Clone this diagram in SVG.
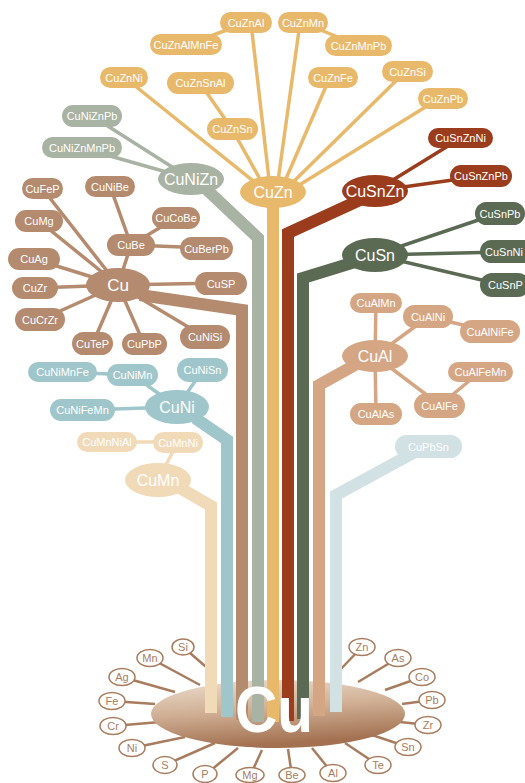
<svg xmlns="http://www.w3.org/2000/svg" width="525" height="783" viewBox="0 0 525 783">
<defs>
<linearGradient id="baseGrad" x1="0" y1="0" x2="0.25" y2="1">
<stop offset="0" stop-color="#eddfd0"/>
<stop offset="0.5" stop-color="#d0b095"/>
<stop offset="1" stop-color="#a37151"/>
</linearGradient>
<style>
text{font-family:"Liberation Sans",Arial,sans-serif;text-anchor:middle;fill:#fff}
.s{font-size:11px}
.m{font-size:16px}
.el{font-size:11px;fill:#a87c5e}
.elb{fill:#fff;stroke:#a87c5e;stroke-width:1.5}
.elc{stroke:#a87c5e;stroke-width:2.5;fill:none}
.t{fill:none;stroke-width:12;stroke-linejoin:miter}
.l{fill:none;stroke-width:3.5;stroke-linecap:round}
.zn{fill:#e8b96b}.znc{stroke:#e8b96b}
.nz{fill:#a9b3a3}.nzc{stroke:#a9b3a3}
.cu{fill:#b58b6f}.cuc{stroke:#b58b6f}
.ni{fill:#9fc6ca}.nic{stroke:#9fc6ca}
.mn{fill:#f1dab8}.mnc{stroke:#f1dab8}
.sz{fill:#9b3d1d}.szc{stroke:#9b3d1d}
.sn{fill:#5b6a53}.snc{stroke:#5b6a53}
.al{fill:#d5a684}.alc{stroke:#d5a684}
.pb{fill:#d2e1e3}.pbc{stroke:#d2e1e3}
</style>
</defs>
<rect width="525" height="783" fill="#fff"/>

<g id="element-links">
<line class="elc" x1="183" y1="647" x2="212" y2="672"/>
<line class="elc" x1="150" y1="658" x2="200" y2="685"/>
<line class="elc" x1="122" y1="677" x2="175" y2="692"/>
<line class="elc" x1="112" y1="701" x2="155" y2="704"/>
<line class="elc" x1="113" y1="726" x2="160" y2="722"/>
<line class="elc" x1="132" y1="748" x2="185" y2="737"/>
<line class="elc" x1="165" y1="765" x2="215" y2="743"/>
<line class="elc" x1="205" y1="775" x2="238" y2="748"/>
<line class="elc" x1="250" y1="776" x2="262" y2="750"/>
<line class="elc" x1="292" y1="776" x2="288" y2="749"/>
<line class="elc" x1="333" y1="774" x2="312" y2="748"/>
<line class="elc" x1="378" y1="765" x2="345" y2="743"/>
<line class="elc" x1="408" y1="747" x2="372" y2="735"/>
<line class="elc" x1="428" y1="725" x2="400" y2="722"/>
<line class="elc" x1="432" y1="700" x2="402" y2="704"/>
<line class="elc" x1="422" y1="677" x2="385" y2="690"/>
<line class="elc" x1="398" y1="658" x2="358" y2="682"/>
<line class="elc" x1="362" y1="647" x2="338" y2="672"/>
</g>

<g id="base">
<ellipse cx="278" cy="714" rx="127" ry="34" fill="url(#baseGrad)"/>
</g>

<g id="connectors">
<polyline class="t mnc" points="180,488 211,506 211,713"/>
<polyline class="t nic" points="195,418 227,440 227,717"/>
<polyline class="t cuc" points="140,295 242,310 242,720"/>
<polyline class="t nzc" points="205,188 258,238 258,722"/>
<polyline class="t znc" points="273,200 273,722"/>
<polyline class="t szc" points="360,200 288,233 288,721"/>
<polyline class="t snc" points="355,262 303,278 303,719"/>
<polyline class="t alc" points="355,365 319,385 319,716"/>
<polyline class="t pbc" points="415,452 336,495 336,712"/>
<line class="l znc" x1="124" y1="77" x2="262" y2="188"/>
<line class="l znc" x1="232" y1="129" x2="265" y2="188"/>
<line class="l znc" x1="200" y1="83" x2="232" y2="129"/>
<line class="l znc" x1="251" y1="23" x2="270" y2="188"/>
<line class="l znc" x1="186" y1="45" x2="246" y2="23"/>
<line class="l znc" x1="300" y1="23" x2="277" y2="188"/>
<line class="l znc" x1="303" y1="23" x2="358" y2="45"/>
<line class="l znc" x1="330" y1="77" x2="282" y2="188"/>
<line class="l znc" x1="405" y1="72" x2="285" y2="190"/>
<line class="l znc" x1="440" y1="98" x2="288" y2="192"/>
<line class="l nzc" x1="92" y1="116" x2="191" y2="179"/>
<line class="l nzc" x1="82" y1="148" x2="191" y2="179"/>
<line class="l cuc" x1="118" y1="285" x2="42" y2="188"/>
<line class="l cuc" x1="118" y1="285" x2="39" y2="221"/>
<line class="l cuc" x1="118" y1="285" x2="34" y2="259"/>
<line class="l cuc" x1="118" y1="285" x2="35" y2="288"/>
<line class="l cuc" x1="118" y1="285" x2="40" y2="320"/>
<line class="l cuc" x1="118" y1="285" x2="93" y2="343"/>
<line class="l cuc" x1="118" y1="285" x2="144" y2="344"/>
<line class="l cuc" x1="118" y1="285" x2="205" y2="337"/>
<line class="l cuc" x1="118" y1="285" x2="221" y2="283"/>
<line class="l cuc" x1="118" y1="285" x2="131" y2="245"/>
<line class="l cuc" x1="131" y1="245" x2="110" y2="186"/>
<line class="l cuc" x1="131" y1="245" x2="176" y2="218"/>
<line class="l cuc" x1="131" y1="245" x2="207" y2="248"/>
<line class="l nic" x1="62" y1="372" x2="133" y2="375"/>
<line class="l nic" x1="133" y1="375" x2="177" y2="407"/>
<line class="l nic" x1="203" y1="370" x2="177" y2="407"/>
<line class="l nic" x1="82" y1="410" x2="177" y2="407"/>
<line class="l mnc" x1="107" y1="442" x2="178" y2="442"/>
<line class="l mnc" x1="178" y1="442" x2="158" y2="480"/>
<line class="l szc" x1="375" y1="191" x2="461" y2="138"/>
<line class="l szc" x1="375" y1="191" x2="481" y2="176"/>
<line class="l snc" x1="375" y1="255" x2="499" y2="213"/>
<line class="l snc" x1="375" y1="255" x2="503" y2="252"/>
<line class="l snc" x1="375" y1="255" x2="503" y2="285"/>
<line class="l alc" x1="375" y1="356" x2="376" y2="303"/>
<line class="l alc" x1="375" y1="356" x2="428" y2="317"/>
<line class="l alc" x1="428" y1="317" x2="490" y2="331"/>
<line class="l alc" x1="375" y1="356" x2="440" y2="405"/>
<line class="l alc" x1="440" y1="405" x2="480" y2="372"/>
<line class="l alc" x1="375" y1="356" x2="376" y2="414"/>
</g>

<g id="CuZn-group" class="zn">
<g id="CuZnAl"><rect x="220" y="12" width="52" height="21" rx="10.5"/><text class="s" x="246" y="26.5">CuZnAl</text></g>
<g id="CuZnMn"><rect x="278" y="12" width="50" height="21" rx="10.5"/><text class="s" x="303" y="26.5">CuZnMn</text></g>
<g id="CuZnAlMnFe"><rect x="150" y="34" width="72" height="21" rx="10.5"/><text class="s" x="186" y="48.5">CuZnAlMnFe</text></g>
<g id="CuZnMnPb"><rect x="325" y="35" width="67" height="21" rx="10.5"/><text class="s" x="358.5" y="49.5">CuZnMnPb</text></g>
<g id="CuZnNi"><rect x="100" y="67" width="48" height="21" rx="10.5"/><text class="s" x="124" y="81.5">CuZnNi</text></g>
<g id="CuZnSnAl"><rect x="167" y="72" width="67" height="22" rx="11"/><text class="s" x="200.5" y="87">CuZnSnAl</text></g>
<g id="CuZnFe"><rect x="308" y="67" width="50" height="21" rx="10.5"/><text class="s" x="333" y="81.5">CuZnFe</text></g>
<g id="CuZnSi"><rect x="382" y="61" width="51" height="21" rx="10.5"/><text class="s" x="407.5" y="75.5">CuZnSi</text></g>
<g id="CuZnPb"><rect x="418" y="88" width="50" height="21" rx="10.5"/><text class="s" x="443" y="102.5">CuZnPb</text></g>
<g id="CuZnSn"><rect x="207" y="118" width="51" height="22" rx="11"/><text class="s" x="232.5" y="133">CuZnSn</text></g>
<g id="CuZn"><ellipse cx="273" cy="192" rx="33" ry="16"/><text class="m" x="273" y="198">CuZn</text></g>
</g>

<g id="CuNiZn-group" class="nz">
<g id="CuNiZnPb"><rect x="62" y="105" width="60" height="22" rx="11"/><text class="s" x="92" y="120">CuNiZnPb</text></g>
<g id="CuNiZnMnPb"><rect x="42" y="137" width="80" height="21" rx="10.5"/><text class="s" x="82" y="151.5">CuNiZnMnPb</text></g>
<g id="CuNiZn"><ellipse cx="191" cy="179" rx="33" ry="16"/><text class="m" x="191" y="185">CuNiZn</text></g>
</g>

<g id="Cu-group" class="cu">
<g id="CuFeP"><rect x="22" y="178" width="41" height="21" rx="10.5"/><text class="s" x="42.5" y="192.5">CuFeP</text></g>
<g id="CuNiBe"><rect x="85" y="176" width="50" height="21" rx="10.5"/><text class="s" x="110" y="190.5">CuNiBe</text></g>
<g id="CuMg"><rect x="15" y="210" width="48" height="22" rx="11"/><text class="s" x="39" y="225">CuMg</text></g>
<g id="CuCoBe"><rect x="152" y="207" width="48" height="22" rx="11"/><text class="s" x="176" y="222">CuCoBe</text></g>
<g id="CuBe"><rect x="107" y="234" width="48" height="22" rx="11"/><text class="s" x="131" y="249">CuBe</text></g>
<g id="CuBerPb"><rect x="180" y="237" width="53" height="23" rx="11.5"/><text class="s" x="206.5" y="252.5">CuBerPb</text></g>
<g id="CuAg"><rect x="8" y="248" width="52" height="22" rx="11"/><text class="s" x="34" y="263">CuAg</text></g>
<g id="Cu"><ellipse cx="118" cy="285" rx="32" ry="17"/><text class="m" x="118" y="291" style="font-size:17px">Cu</text></g>
<g id="CuSP"><rect x="195" y="272" width="52" height="23" rx="11.5"/><text class="s" x="221" y="287.5">CuSP</text></g>
<g id="CuZr"><rect x="12" y="277" width="46" height="22" rx="11"/><text class="s" x="35" y="292">CuZr</text></g>
<g id="CuCrZr"><rect x="15" y="308" width="50" height="23" rx="11.5"/><text class="s" x="40" y="323.5">CuCrZr</text></g>
<g id="CuTeP"><rect x="72" y="332" width="41" height="23" rx="11.5"/><text class="s" x="92.5" y="347.5">CuTeP</text></g>
<g id="CuPbP"><rect x="122" y="333" width="45" height="22" rx="11"/><text class="s" x="144.5" y="348">CuPbP</text></g>
<g id="CuNiSi"><rect x="180" y="325" width="50" height="24" rx="12"/><text class="s" x="205" y="341">CuNiSi</text></g>
</g>

<g id="CuNi-group" class="ni">
<g id="CuNiMnFe"><rect x="28" y="362" width="69" height="20" rx="10"/><text class="s" x="62.5" y="376">CuNiMnFe</text></g>
<g id="CuNiMn"><rect x="107" y="364" width="51" height="22" rx="11"/><text class="s" x="132.5" y="379">CuNiMn</text></g>
<g id="CuNiSn"><rect x="177" y="358" width="51" height="24" rx="12"/><text class="s" x="202.5" y="374">CuNiSn</text></g>
<g id="CuNi"><ellipse cx="177" cy="407" rx="32" ry="17"/><text class="m" x="177" y="413">CuNi</text></g>
<g id="CuNiFeMn"><rect x="50" y="399" width="65" height="22" rx="11"/><text class="s" x="82.5" y="414">CuNiFeMn</text></g>
</g>

<g id="CuMn-group" class="mn">
<g id="CuMnNiAl"><rect x="77" y="432" width="60" height="20" rx="10"/><text class="s" x="107" y="446">CuMnNiAl</text></g>
<g id="CuMnNi"><rect x="153" y="432" width="50" height="21" rx="10.5"/><text class="s" x="178" y="446.5">CuMnNi</text></g>
<g id="CuMn"><ellipse cx="158" cy="480" rx="33" ry="17"/><text class="m" x="158" y="486">CuMn</text></g>
</g>

<g id="CuSnZn-group" class="sz">
<g id="CuSnZnNi"><rect x="428" y="128" width="65" height="20" rx="10"/><text class="s" x="460.5" y="142">CuSnZnNi</text></g>
<g id="CuSnZnPb"><rect x="450" y="165" width="62" height="22" rx="11"/><text class="s" x="481" y="180">CuSnZnPb</text></g>
<g id="CuSnZn"><ellipse cx="375" cy="191" rx="33" ry="16"/><text class="m" x="375" y="197">CuSnZn</text></g>
</g>

<g id="CuSn-group" class="sn">
<g id="CuSnPb"><rect x="475" y="202" width="50" height="23" rx="11.5"/><text class="s" x="500" y="217.5">CuSnPb</text></g>
<g id="CuSnNi"><rect x="480" y="240" width="56" height="23" rx="11.5"/><text class="s" x="485" y="255.5" style="text-anchor:start">CuSnNi</text></g>
<g id="CuSnP"><rect x="480" y="273" width="50" height="24" rx="12"/><text class="s" x="488" y="289" style="text-anchor:start">CuSnP</text></g>
<g id="CuSn"><ellipse cx="375" cy="255" rx="33" ry="17"/><text class="m" x="375" y="261">CuSn</text></g>
</g>

<g id="CuAl-group" class="al">
<g id="CuAlMn"><rect x="350" y="293" width="52" height="20" rx="10"/><text class="s" x="376" y="307">CuAlMn</text></g>
<g id="CuAlNi"><rect x="403" y="305" width="50" height="23" rx="11.5"/><text class="s" x="428" y="320.5">CuAlNi</text></g>
<g id="CuAlNiFe"><rect x="460" y="320" width="60" height="23" rx="11.5"/><text class="s" x="490" y="335.5">CuAlNiFe</text></g>
<g id="CuAl"><ellipse cx="375" cy="356" rx="33" ry="16"/><text class="m" x="375" y="362">CuAl</text></g>
<g id="CuAlFeMn"><rect x="448" y="362" width="65" height="20" rx="10"/><text class="s" x="480.5" y="376">CuAlFeMn</text></g>
<g id="CuAlFe"><rect x="414" y="393" width="51" height="25" rx="12.5"/><text class="s" x="439.5" y="409.5">CuAlFe</text></g>
<g id="CuAlAs"><rect x="350" y="403" width="52" height="22" rx="11"/><text class="s" x="376" y="418">CuAlAs</text></g>
</g>

<g id="CuPbSn-group" class="pb">
<g id="CuPbSn"><rect x="395" y="435" width="67" height="23" rx="11.5"/><text class="s" x="428.5" y="450.5">CuPbSn</text></g>
</g>

<g id="base-label">
<text x="274" y="732" style="font-size:65px;font-weight:bold" textLength="78" lengthAdjust="spacingAndGlyphs">Cu</text>
</g>

<g id="elements">
<g id="el-Si"><ellipse class="elb" cx="183" cy="647" rx="11" ry="8"/><text class="el" x="183" y="651">Si</text></g>
<g id="el-Mn"><ellipse class="elb" cx="150" cy="658" rx="13" ry="8.5"/><text class="el" x="150" y="662">Mn</text></g>
<g id="el-Ag"><ellipse class="elb" cx="122" cy="677" rx="13" ry="8.5"/><text class="el" x="122" y="681">Ag</text></g>
<g id="el-Fe"><ellipse class="elb" cx="112" cy="701" rx="13" ry="8.5"/><text class="el" x="112" y="705">Fe</text></g>
<g id="el-Cr"><ellipse class="elb" cx="113" cy="726" rx="13" ry="8.5"/><text class="el" x="113" y="730">Cr</text></g>
<g id="el-Ni"><ellipse class="elb" cx="132" cy="748" rx="13" ry="8.5"/><text class="el" x="132" y="752">Ni</text></g>
<g id="el-S"><ellipse class="elb" cx="165" cy="765" rx="12" ry="8.5"/><text class="el" x="165" y="769">S</text></g>
<g id="el-P"><ellipse class="elb" cx="205" cy="774" rx="12" ry="8.5"/><text class="el" x="205" y="778">P</text></g>
<g id="el-Mg"><ellipse class="elb" cx="250" cy="775" rx="14" ry="7.5"/><text class="el" x="250" y="779">Mg</text></g>
<g id="el-Be"><ellipse class="elb" cx="292" cy="775" rx="13" ry="7.5"/><text class="el" x="292" y="779">Be</text></g>
<g id="el-Al"><ellipse class="elb" cx="333" cy="773" rx="13" ry="8.5"/><text class="el" x="333" y="777">Al</text></g>
<g id="el-Te"><ellipse class="elb" cx="378" cy="765" rx="13" ry="8.5"/><text class="el" x="378" y="769">Te</text></g>
<g id="el-Sn"><ellipse class="elb" cx="408" cy="747" rx="13" ry="8.5"/><text class="el" x="408" y="751">Sn</text></g>
<g id="el-Zr"><ellipse class="elb" cx="428" cy="725" rx="13" ry="8.5"/><text class="el" x="428" y="729">Zr</text></g>
<g id="el-Pb"><ellipse class="elb" cx="432" cy="700" rx="13" ry="8.5"/><text class="el" x="432" y="704">Pb</text></g>
<g id="el-Co"><ellipse class="elb" cx="422" cy="677" rx="13" ry="8.5"/><text class="el" x="422" y="681">Co</text></g>
<g id="el-As"><ellipse class="elb" cx="398" cy="658" rx="13" ry="8.5"/><text class="el" x="398" y="662">As</text></g>
<g id="el-Zn"><ellipse class="elb" cx="362" cy="647" rx="13" ry="8.5"/><text class="el" x="362" y="651">Zn</text></g>
</g>
</svg>
